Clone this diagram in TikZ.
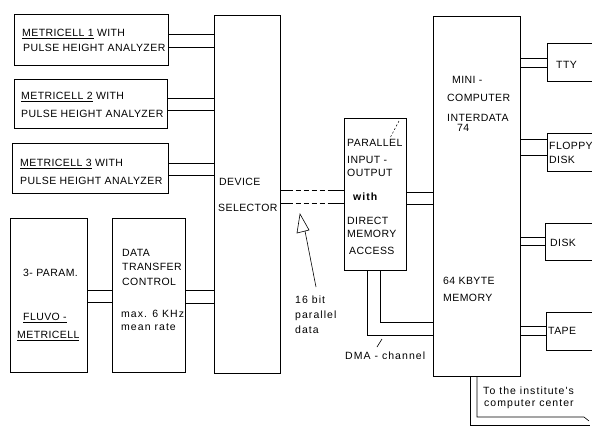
\documentclass[tikz,border=0pt]{standalone}
\usepackage{fontspec}
\setmainfont{Liberation Sans}[LetterSpace=4]
\newfontfamily\lowfont{Liberation Sans}[LetterSpace=10]
\begin{document}
\begin{tikzpicture}[x=1pt,y=-1pt,
  box/.style={draw,line width=0.6pt,inner sep=0pt,anchor=north west},
  bus/.style={line width=0.6pt},
  lbl/.style={inner sep=0pt,anchor=west,text height=7.5pt,text depth=0pt,font=\fontsize{10.5}{11}\selectfont},
  slbl/.style={inner sep=0pt,anchor=west,text height=7pt,text depth=0pt,font=\lowfont\fontsize{10.5}{11}\selectfont}]
\useasboundingbox (0,0) rectangle (592,426);
% boxes
\node[box,minimum width=154pt,minimum height=51pt] (m1) at (14,14) {};
\node[box,minimum width=153pt,minimum height=49pt] (m2) at (14,79) {};
\node[box,minimum width=156pt,minimum height=50pt] (m3) at (12,143) {};
\node[box,minimum width=77pt,minimum height=154pt] (fl) at (10,218) {};
\node[box,minimum width=73pt,minimum height=154pt] (dtc) at (112,218) {};
\node[box,minimum width=66pt,minimum height=358pt] (ds) at (214,15) {};
\node[box,minimum width=62pt,minimum height=152pt] (pio) at (344,118) {};
\node[box,minimum width=87pt,minimum height=360pt] (cp) at (433,16) {};
\node[box,minimum width=50pt,minimum height=38pt] (tty) at (547,43) {};
\node[box,minimum width=50pt,minimum height=38pt] (fd) at (547,133) {};
\node[box,minimum width=52pt,minimum height=37pt] (dk) at (545,223) {};
\node[box,minimum width=51pt,minimum height=38pt] (tp) at (546,312) {};
% texts
\node[lbl] (t1a) at (22,33) {\underline{METRICELL 1} WITH};
\node[lbl] (t1b) at (23,48) {PULSE HEIGHT ANALYZER};
\node[lbl] (t2a) at (21,96) {\underline{METRICELL 2} WITH};
\node[lbl] (t2b) at (21,114) {PULSE HEIGHT ANALYZER};
\node[lbl] (t3a) at (20,163) {\underline{METRICELL 3} WITH};
\node[lbl] (t3b) at (20,181) {PULSE HEIGHT ANALYZER};
\node[lbl] (f1) at (23,273) {3- PARAM.};
\node[lbl] (f2) at (23,317) {\underline{FLUVO -}};
\node[lbl] (f3) at (17,335) {\underline{METRICELL}};
\node[lbl] (d1) at (122,253) {DATA};
\node[lbl] (d2) at (122,267) {TRANSFER};
\node[lbl] (d3) at (122,282) {CONTROL};
\node[slbl] (d4) at (121,314) {max. 6 KHz};
\node[slbl] (d5) at (121,327) {mean rate};
\node[lbl] (s1) at (219,182) {DEVICE};
\node[lbl] (s2) at (218,208) {SELECTOR};
\node[lbl] (p1) at (347,143) {PARALLEL};
\node[lbl] (p2) at (347,160) {INPUT -};
\node[lbl] (p3) at (347,173) {OUTPUT};
\node[slbl] (p4) at (353,197) {\textbf{with}};
\node[lbl] (p5) at (347,221) {DIRECT};
\node[lbl] (p6) at (347,234) {MEMORY};
\node[lbl] (p7) at (349,251) {ACCESS};
\node[lbl] (c1) at (452,80) {MINI -};
\node[lbl] (c2) at (447,98) {COMPUTER};
\node[lbl] (c3) at (447,118) {INTERDATA};
\node[lbl] (c4) at (457,128) {74};
\node[lbl] (c5) at (443,281) {64 KBYTE};
\node[lbl] (c6) at (443,298) {MEMORY};
\node[lbl] (tt) at (556,65) {TTY};
\node[lbl] (fa) at (549,146) {FLOPPY};
\node[lbl] (fb) at (549,160) {DISK};
\node[lbl] (dd) at (550,243) {DISK};
\node[lbl] (ta) at (548,331) {TAPE};
\node[slbl] (i1) at (483,391) {To the institute's};
\node[slbl] (i2) at (484,403) {computer center};
\node[slbl] (b1) at (295,300) {16 bit};
\node[slbl] (b2) at (295,315) {parallel};
\node[slbl] (b3) at (295,330) {data};
\node[slbl] (dma) at (345,356) {DMA - channel};
% buses
\foreach \y in {34,47} \draw[bus] (m1.east |- 0,\y) -- (ds.west |- 0,\y);
\foreach \y in {98,110} \draw[bus] (m2.east |- 0,\y) -- (ds.west |- 0,\y);
\foreach \y in {163,175} \draw[bus] (m3.east |- 0,\y) -- (ds.west |- 0,\y);
\foreach \y in {290,302} \draw[bus] (fl.east |- 0,\y) -- (dtc.west |- 0,\y);
\foreach \y in {290,303} \draw[bus] (dtc.east |- 0,\y) -- (ds.west |- 0,\y);
\foreach \y in {190,203} \draw[bus,dash pattern=on 12pt off 3pt on 5pt off 3pt on 5pt off 3pt on 5pt off 3pt on 5pt off 3pt on 18pt] (ds.east |- 0,\y) -- (pio.west |- 0,\y);
\foreach \y in {192,204} \draw[bus] (pio.east |- 0,\y) -- (cp.west |- 0,\y);
\foreach \y in {58,67} \draw[bus] (cp.east |- 0,\y) -- (tty.west |- 0,\y);
\foreach \y in {139,155} \draw[bus] (cp.east |- 0,\y) -- (fd.west |- 0,\y);
\foreach \y in {237,245} \draw[bus] (cp.east |- 0,\y) -- (dk.west |- 0,\y);
\foreach \y in {326,335} \draw[bus] (cp.east |- 0,\y) -- (tp.west |- 0,\y);
% DMA channel
\draw[bus] (pio.south -| 367,0) |- (cp.west |- 0,335);
\draw[bus] (pio.south -| 380,0) |- (cp.west |- 0,322);
\draw[bus] (382,339) -- (377,347);
% dashed slash on PIO
\draw[line width=0.5pt,dash pattern=on 2pt off 2pt] (399,121) -- (390,138);
% output to computer center
\coordinate (oc1) at (590,425);
\coordinate (oc2) at (584,417);
\draw[bus] (cp.south -| 470,0) |- (oc1);
\draw[bus] (cp.south -| 477,0) |- (oc2) -- (589,421);
% 16 bit arrow
\draw[line width=0.6pt] (300,214) -- (297,233) -- (309,230) -- cycle;
\draw[line width=0.6pt] (305,231) -- (316,287);
\end{tikzpicture}
\end{document}
